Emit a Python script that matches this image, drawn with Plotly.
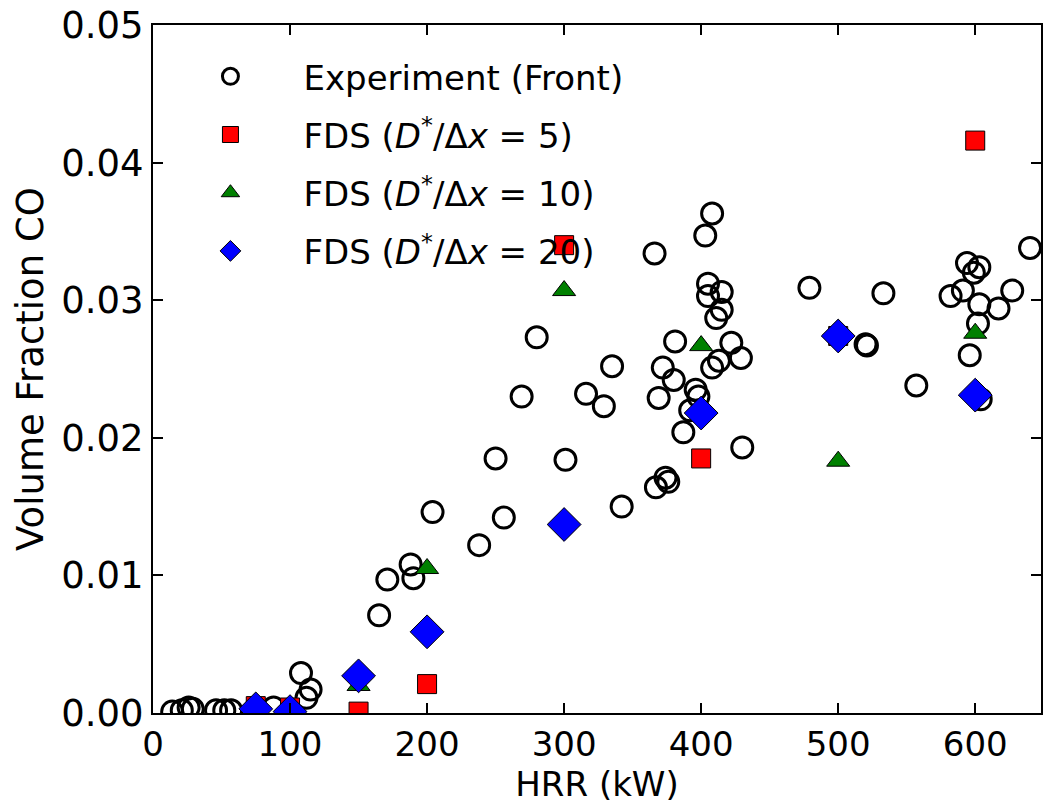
import plotly.graph_objects as go

# Experiment (Front)
exp_hrr = [14, 21, 26, 29, 46, 52, 57, 88, 108, 112, 115,
           165, 171, 188, 190, 204, 238, 250, 256, 269, 280,
           301, 316, 329, 335, 342, 366, 367, 369, 372, 374, 376,
           380, 381, 387, 392, 396, 398, 403, 405, 405, 408, 408,
           411, 413, 415, 415, 422, 429, 430,
           479, 520, 521, 533, 557, 582, 591, 594, 596, 599, 602,
           603, 603, 604, 617, 627, 640]
exp_co = [0.0001, 0.0002, 0.0004, 0.0003, 0.0002, 0.0002, 0.0002, 0.0004, 0.0029, 0.0011, 0.0017,
          0.0071, 0.0097, 0.0108, 0.0098, 0.0146, 0.0122, 0.0185, 0.0142, 0.0230, 0.0273,
          0.0184, 0.0232, 0.0223, 0.0252, 0.0150, 0.0334, 0.0164, 0.0229, 0.0251, 0.0171, 0.0168,
          0.0242, 0.0270, 0.0204, 0.0220, 0.0235, 0.0230, 0.0347, 0.0312, 0.0303, 0.0363, 0.0251,
          0.0287, 0.0256, 0.0306, 0.0293, 0.0269, 0.0258, 0.0193,
          0.0309, 0.0268, 0.0267, 0.0305, 0.0238, 0.0303, 0.0307, 0.0327, 0.0260, 0.0320, 0.0283,
          0.0324, 0.0297, 0.0228, 0.0294, 0.0307, 0.0338]

fds_hrr = [75, 100, 150, 200, 300, 400, 500, 600]
fds5_co = [0.0005, 0.0004, 0.0001, 0.0021, 0.0340, 0.0185, 0.0274, 0.0416]
fds10_co = [0.0003, 0.0002, 0.0020, 0.0105, 0.0307, 0.0267, 0.0183, 0.0276]
fds20_co = [0.0003, 0.0001, 0.0027, 0.0059, 0.0137, 0.0218, 0.0274, 0.0231]

x_ticks = [0, 100, 200, 300, 400, 500, 600]
y_ticks = [0.00, 0.01, 0.02, 0.03, 0.04, 0.05]
y_tick_text = ["0.00", "0.01", "0.02", "0.03", "0.04", "0.05"]

fig = go.Figure()
fig.add_trace(go.Scatter(
    x=exp_hrr, y=exp_co, mode="markers", name="Experiment (Front)",
    legendgroup="a",
    marker=dict(symbol="circle-open", size=21, color="black", line=dict(width=3, color="black"))))
fig.add_trace(go.Scatter(
    x=fds_hrr, y=fds5_co, mode="markers", name="FDS (<i>D</i><sup>*</sup>/Δ<i>x</i> = 5)",
    legendgroup="b",
    marker=dict(symbol="square", size=19, color="red", line=dict(width=1, color="black"))))
fig.add_trace(go.Scatter(
    x=fds_hrr, y=fds10_co, mode="markers", name="FDS (<i>D</i><sup>*</sup>/Δ<i>x</i> = 10)",
    legendgroup="c",
    marker=dict(symbol="triangle-up", size=20, color="green", line=dict(width=1, color="black"))))
fig.add_trace(go.Scatter(
    x=fds_hrr, y=fds20_co, mode="markers", name="FDS (<i>D</i><sup>*</sup>/Δ<i>x</i> = 20)",
    legendgroup="d",
    marker=dict(symbol="diamond", size=26, color="blue", line=dict(width=1, color="black"))))

fig.update_layout(
    width=1044, height=804,
    margin=dict(l=153, r=1, t=25, b=91),
    paper_bgcolor="white", plot_bgcolor="white",
    font=dict(family="DejaVu Sans", color="black", size=34),
    legend=dict(x=0.005, y=0.967, xanchor="left", yanchor="top",
                bgcolor="rgba(0,0,0,0)", font=dict(size=34, family="DejaVu Sans"),
                traceorder="grouped", tracegroupgap=11, itemwidth=136),
    showlegend=True,
)
fig.update_xaxes(
    range=[0, 648], tickvals=x_ticks, ticks="inside", ticklen=10, tickwidth=1.5,
    tickcolor="black", showline=True, linecolor="black", linewidth=2, mirror="ticks",
    showgrid=False, zeroline=False,
    tickfont=dict(family="DejaVu Sans", size=34),
    title=dict(text="HRR (kW)", font=dict(family="DejaVu Sans", size=34), standoff=0),
)
fig.update_yaxes(
    range=[0, 0.05], tickvals=y_ticks, ticktext=y_tick_text, ticks="inside", ticklen=10,
    tickwidth=1.5, tickcolor="black", showline=True, linecolor="black", linewidth=2,
    mirror="ticks", showgrid=False, zeroline=False,
    tickfont=dict(family="DejaVu Sans", size=37),
    title=dict(text="Volume Fraction CO", font=dict(family="DejaVu Sans", size=37), standoff=6),
)
fig.write_html("out.html")
